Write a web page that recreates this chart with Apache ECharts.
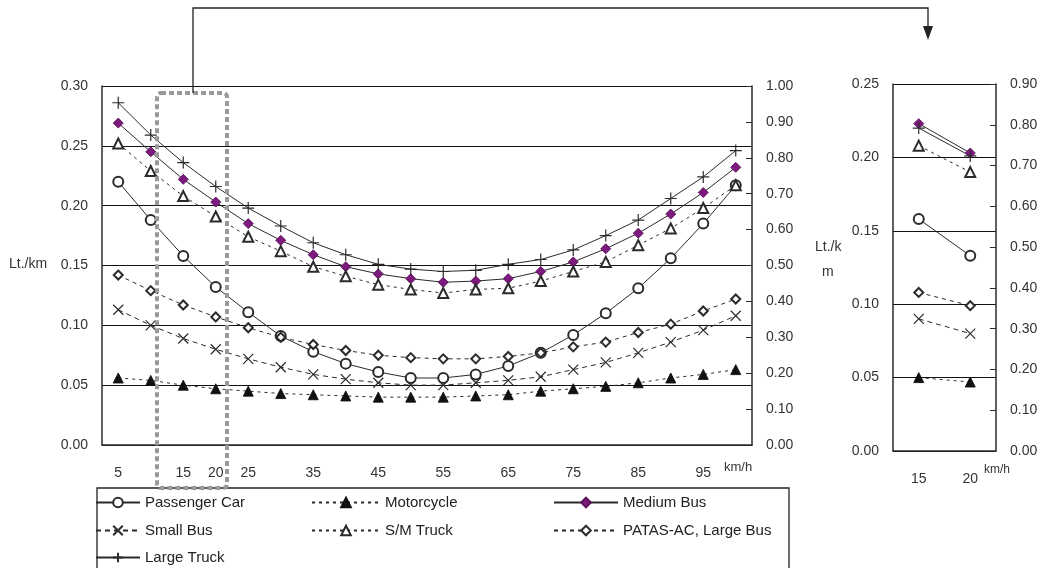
<!DOCTYPE html>
<html>
<head>
<meta charset="utf-8">
<script src="https://cdn.jsdelivr.net/npm/echarts@6/dist/echarts.min.js"></script>
<style>
  html, body { margin: 0; padding: 0; background: #fff; }
  #chart { width: 1043px; height: 568px; }
</style>
</head>
<body>
<div id="chart"></div>
<script>
// Velocidades (km/h) do gráfico principal
const speeds = ['5', '10', '15', '20', '25', '30', '35', '40', '45', '50',
    '55', '60', '65', '70', '75', '80', '85', '90', '95', '100'];
const shownSpeedLabels = ['5', '15', '20', '25', '35', '45', '55', '65', '75', '85', '95'];

// Consumo (Lt./km) por tipo de veículo
const passengerCar = [0.220, 0.188, 0.158, 0.132, 0.111, 0.091, 0.078, 0.068, 0.061, 0.056,
    0.056, 0.059, 0.066, 0.077, 0.092, 0.110, 0.131, 0.156, 0.185, 0.217];
const motorcycle = [0.056, 0.054, 0.050, 0.047, 0.045, 0.043, 0.042, 0.041, 0.040, 0.040,
    0.040, 0.041, 0.042, 0.045, 0.047, 0.049, 0.052, 0.056, 0.059, 0.063];
const mediumBus = [0.269, 0.245, 0.222, 0.203, 0.185, 0.171, 0.159, 0.149, 0.143, 0.139,
    0.136, 0.137, 0.139, 0.145, 0.153, 0.164, 0.177, 0.193, 0.211, 0.232];
const smallBus = [0.113, 0.100, 0.089, 0.080, 0.072, 0.065, 0.059, 0.055, 0.052, 0.050,
    0.050, 0.052, 0.054, 0.057, 0.063, 0.069, 0.077, 0.086, 0.096, 0.108];
const smTruck = [0.252, 0.229, 0.208, 0.191, 0.174, 0.162, 0.149, 0.141, 0.134, 0.130,
    0.127, 0.130, 0.131, 0.137, 0.145, 0.153, 0.167, 0.181, 0.198, 0.217];
const patasBus = [0.142, 0.129, 0.117, 0.107, 0.098, 0.090, 0.084, 0.079, 0.075, 0.073,
    0.072, 0.072, 0.074, 0.077, 0.082, 0.086, 0.094, 0.101, 0.112, 0.122];
const largeTruck = [0.286, 0.259, 0.236, 0.216, 0.198, 0.183, 0.169, 0.159, 0.151, 0.147,
    0.145, 0.146, 0.151, 0.155, 0.163, 0.175, 0.188, 0.206, 0.224, 0.246];

// Detalhe (15 e 20 km/h)
const insetSpeeds = ['15', '20'];
const insetPassengerCar = [0.158, 0.133];
const insetMotorcycle = [0.050, 0.047];
const insetMediumBus = [0.223, 0.203];
const insetSmallBus = [0.090, 0.080];
const insetSmTruck = [0.208, 0.190];
const insetPatasBus = [0.108, 0.099];
const insetLargeTruck = [0.220, 0.201];

const INK = '#2b2b2b';
const TEXT = '#333';
const PURPLE = '#7d1a7d';
const FONT = '"Liberation Sans", Arial, sans-serif';

const X_SYMBOL = 'path://M0,0L10,10M0,10L10,0';
const PLUS_SYMBOL = 'path://M5,0L5,10M0,5L10,5';

// Estilo de cada série
const STYLES = {
    'Passenger Car': { symbol: 'emptyCircle', size: 10, dash: 'solid', color: INK },
    'Motorcycle': { symbol: 'triangle', size: 10, dash: [3, 4], color: '#111' },
    'Medium Bus': { symbol: 'diamond', size: 10, dash: 'solid', color: PURPLE },
    'Small Bus': { symbol: X_SYMBOL, size: 10, dash: [5, 4], color: INK, stroke: true },
    'S/M Truck': { symbol: 'emptyTriangle', size: 10, dash: [3, 4], color: INK },
    'PATAS-AC, Large Bus': { symbol: 'emptyDiamond', size: 9, dash: [4, 4], color: INK },
    'Large Truck': { symbol: PLUS_SYMBOL, size: 12, dash: 'solid', color: INK, stroke: true }
};

function makeSeries(name, data, xIdx, yIdx) {
    const s = STYLES[name];
    return {
        name: name,
        type: 'line',
        xAxisIndex: xIdx,
        yAxisIndex: yIdx,
        data: data,
        symbol: s.symbol,
        symbolSize: s.size,
        showAllSymbol: true,
        lineStyle: { color: INK, width: 1, type: s.dash },
        itemStyle: s.stroke
            ? { color: INK, borderColor: INK, borderWidth: 1.2 }
            : { color: s.color, borderColor: s.color === PURPLE ? '#5a105a' : s.color, borderWidth: 0.9 },
        emphasis: { disabled: true },
        animation: false
    };
}

// Uma legenda por item, posicionada em grade (3 colunas)
function makeLegend(name, left, top, width) {
    return {
        left: left, top: top, padding: 0,
        itemWidth: width, itemHeight: 12,
        textStyle: { color: '#222', fontSize: 15, fontFamily: FONT },
        data: [name]
    };
}

const chart = echarts.init(document.getElementById('chart'));

const axisLabelStyle = { color: TEXT, fontSize: 14, fontFamily: FONT };

const option = {
    backgroundColor: '#fff',
    animation: false,
    textStyle: { fontFamily: FONT },
    grid: [
        { left: 102, top: 86, width: 650, height: 359 },
        { left: 893, top: 84, width: 103, height: 367 }
    ],
    xAxis: [
        {
            type: 'category',
            gridIndex: 0,
            data: speeds,
            boundaryGap: true,
            axisLine: { lineStyle: { color: INK, width: 1.5 } },
            axisTick: { inside: true, length: 6, interval: 0, lineStyle: { color: INK } },
            axisLabel: {
                ...axisLabelStyle,
                interval: 0,
                margin: 21,
                formatter: v => shownSpeedLabels.includes(v) ? v : ''
            }
        },
        {
            type: 'category',
            gridIndex: 1,
            data: insetSpeeds,
            boundaryGap: true,
            axisLine: { lineStyle: { color: INK, width: 1.5 } },
            axisTick: { inside: true, length: 6, lineStyle: { color: INK } },
            axisLabel: { ...axisLabelStyle, margin: 21 }
        }
    ],
    yAxis: [
        {
            type: 'value',
            gridIndex: 0,
            min: 0, max: 0.3, interval: 0.05,
            axisLine: { show: true, lineStyle: { color: INK, width: 1.5 } },
            axisTick: { show: false },
            axisLabel: { ...axisLabelStyle, margin: 14, formatter: v => v.toFixed(2) },
            splitLine: { show: true, lineStyle: { color: '#111', width: 1.2 } }
        },
        {
            type: 'value',
            gridIndex: 0,
            position: 'right',
            min: 0, max: 1, interval: 0.1,
            axisLine: { show: true, lineStyle: { color: INK, width: 1.5 } },
            axisTick: { show: true, inside: true, length: 6, lineStyle: { color: INK } },
            axisLabel: { ...axisLabelStyle, margin: 14, formatter: v => v.toFixed(2) },
            splitLine: { show: false }
        },
        {
            type: 'value',
            gridIndex: 1,
            min: 0, max: 0.25, interval: 0.05,
            axisLine: { show: true, lineStyle: { color: INK, width: 1.5 } },
            axisTick: { show: false },
            axisLabel: { ...axisLabelStyle, margin: 14, formatter: v => v.toFixed(2) },
            splitLine: { show: true, lineStyle: { color: '#111', width: 1.2 } }
        },
        {
            type: 'value',
            gridIndex: 1,
            position: 'right',
            min: 0, max: 0.9, interval: 0.1,
            axisLine: { show: true, lineStyle: { color: INK, width: 1.5 } },
            axisTick: { show: true, inside: true, length: 6, lineStyle: { color: INK } },
            axisLabel: { ...axisLabelStyle, margin: 14, formatter: v => v.toFixed(2) },
            splitLine: { show: false }
        }
    ],
    legend: [
        makeLegend('Passenger Car', 95, 495, 44),
        makeLegend('Small Bus', 95, 523, 44),
        makeLegend('Large Truck', 95, 550, 44),
        makeLegend('Motorcycle', 311, 495, 68),
        makeLegend('S/M Truck', 311, 523, 68),
        makeLegend('Medium Bus', 553, 495, 64),
        makeLegend('PATAS-AC, Large Bus', 553, 523, 64)
    ],
    graphic: [
        // Rótulos dos eixos
        { type: 'text', left: 9, top: 257, style: { text: 'Lt./km', fill: TEXT, fontSize: 14, fontFamily: FONT } },
        { type: 'text', left: 724, top: 461, style: { text: 'km/h', fill: TEXT, fontSize: 13, fontFamily: FONT } },
        { type: 'text', left: 815, top: 240, style: { text: 'Lt./k', fill: TEXT, fontSize: 14, fontFamily: FONT } },
        { type: 'text', left: 822, top: 265, style: { text: 'm', fill: TEXT, fontSize: 14, fontFamily: FONT } },
        { type: 'text', left: 984, top: 464, style: { text: 'km/h', fill: TEXT, fontSize: 12, fontFamily: FONT } },
        // Caixa pontilhada e seta de ligação
        {
            type: 'rect', z: 100,
            shape: { x: 157, y: 93, width: 70, height: 395, r: 4 },
            style: { fill: 'none', stroke: '#9a9a9a', lineWidth: 4, lineDash: [5, 3] }
        },
        {
            type: 'polyline', z: 100,
            shape: { points: [[193, 93], [193, 8], [928, 8], [928, 28]] },
            style: { stroke: '#222', lineWidth: 1.3, fill: 'none' }
        },
        {
            type: 'polygon', z: 100,
            shape: { points: [[923, 26], [933, 26], [928, 40]] },
            style: { fill: '#222' }
        },
        // Moldura da legenda
        {
            type: 'rect', z: 0,
            shape: { x: 97, y: 488, width: 692, height: 100 },
            style: { fill: 'none', stroke: '#222', lineWidth: 1.3 }
        }
    ],
    series: [
        makeSeries('Passenger Car', passengerCar, 0, 0),
        makeSeries('Motorcycle', motorcycle, 0, 0),
        makeSeries('Medium Bus', mediumBus, 0, 0),
        makeSeries('Small Bus', smallBus, 0, 0),
        makeSeries('S/M Truck', smTruck, 0, 0),
        makeSeries('PATAS-AC, Large Bus', patasBus, 0, 0),
        makeSeries('Large Truck', largeTruck, 0, 0),
        makeSeries('Passenger Car', insetPassengerCar, 1, 2),
        makeSeries('Motorcycle', insetMotorcycle, 1, 2),
        makeSeries('Medium Bus', insetMediumBus, 1, 2),
        makeSeries('Small Bus', insetSmallBus, 1, 2),
        makeSeries('S/M Truck', insetSmTruck, 1, 2),
        makeSeries('PATAS-AC, Large Bus', insetPatasBus, 1, 2),
        makeSeries('Large Truck', insetLargeTruck, 1, 2)
    ]
};

chart.setOption(option);
</script>
</body>
</html>
